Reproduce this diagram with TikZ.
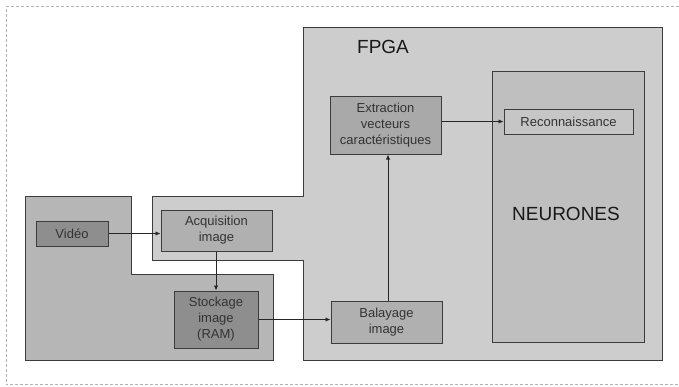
\documentclass[tikz,border=0pt]{standalone}
\usepackage{fontspec}
\setmainfont{Liberation Sans}
\usetikzlibrary{arrows.meta}
\definecolor{fpgafill}{HTML}{CDCDCD}
\definecolor{boardfill}{HTML}{B6B6B6}
\definecolor{darkfill}{HTML}{8E8E8E}
\definecolor{midfill}{HTML}{B0B0B0}
\definecolor{extfill}{HTML}{A9A9A9}
\definecolor{neurfill}{HTML}{BFBFBF}
\definecolor{recfill}{HTML}{C6C6C6}
\definecolor{edge}{HTML}{3C3C3C}
\definecolor{txt}{HTML}{333333}
\tikzset{
  region/.style={draw=edge, line width=1pt},
  block/.style={draw=edge, line width=1pt, align=center, inner sep=0pt, text=txt,
    font=\fontsize{13}{16}\selectfont},
  bigtext/.style={font=\fontsize{19}{22}\selectfont, text=black!90, inner sep=0pt},
  conn/.style={draw=black!85, line width=0.9pt, -{Latex[length=5pt,width=4.5pt]}},
}
\begin{document}
\begin{tikzpicture}[x=1pt,y=-1pt]
\useasboundingbox (0,0) rectangle (679,386);
% outer dashed border
\draw[gray!60, line width=0.8pt, dash pattern=on 3pt off 2pt] (679,6.5) -- (6,6.5) -- (6,384.5) -- (679,384.5);
% board region
\draw[region, fill=boardfill] (25,196) -- (131,196) -- (131,274) -- (273,274) -- (273,360) -- (25,360) -- cycle;
% FPGA region
\draw[region, fill=fpgafill] (303,27) -- (662,27) -- (662,360) -- (303,360) -- (303,260) -- (152,260) -- (152,196) -- (303,196) -- cycle;
\node[bigtext] (fpga) at (383,47) {FPGA};
% neurones region
\draw[region, fill=neurfill] (492,71) rectangle (644,342);
\node[bigtext] (neur) at (566,214) {NEURONES};
% blocks
\node[block, fill=darkfill, minimum width=72pt, minimum height=25pt] (video) at (72,233.5) {Vidéo};
\node[block, fill=midfill, minimum width=111pt, minimum height=41pt] (acq) at (216.5,230.5) {Acquisition\\image};
\node[block, fill=darkfill, minimum width=84pt, minimum height=57pt] (stock) at (216,319.5) {Stockage\\image\\(RAM)};
\node[block, fill=midfill, minimum width=111pt, minimum height=42pt] (bal) at (386.5,322) {Balayage\\image};
\node[block, fill=extfill, minimum width=111pt, minimum height=58pt] (ext) at (385.5,125) {Extraction\\vecteurs\\caractéristiques};
\node[block, fill=recfill, minimum width=129pt, minimum height=25pt] (rec) at (568.5,121.5) {Reconnaissance};
% connectors
\draw[conn] (video.east) -- (video.east -| acq.west);
\draw[conn] (acq.south -| stock.north) -- (stock.north);
\draw[conn] (stock.east) -- (stock.east -| bal.west);
\draw[conn] (bal.north -| 388,0) -- (ext.south -| 388,0);
\draw[conn] (ext.east |- rec.west) -- (rec.west);
\end{tikzpicture}
\end{document}
